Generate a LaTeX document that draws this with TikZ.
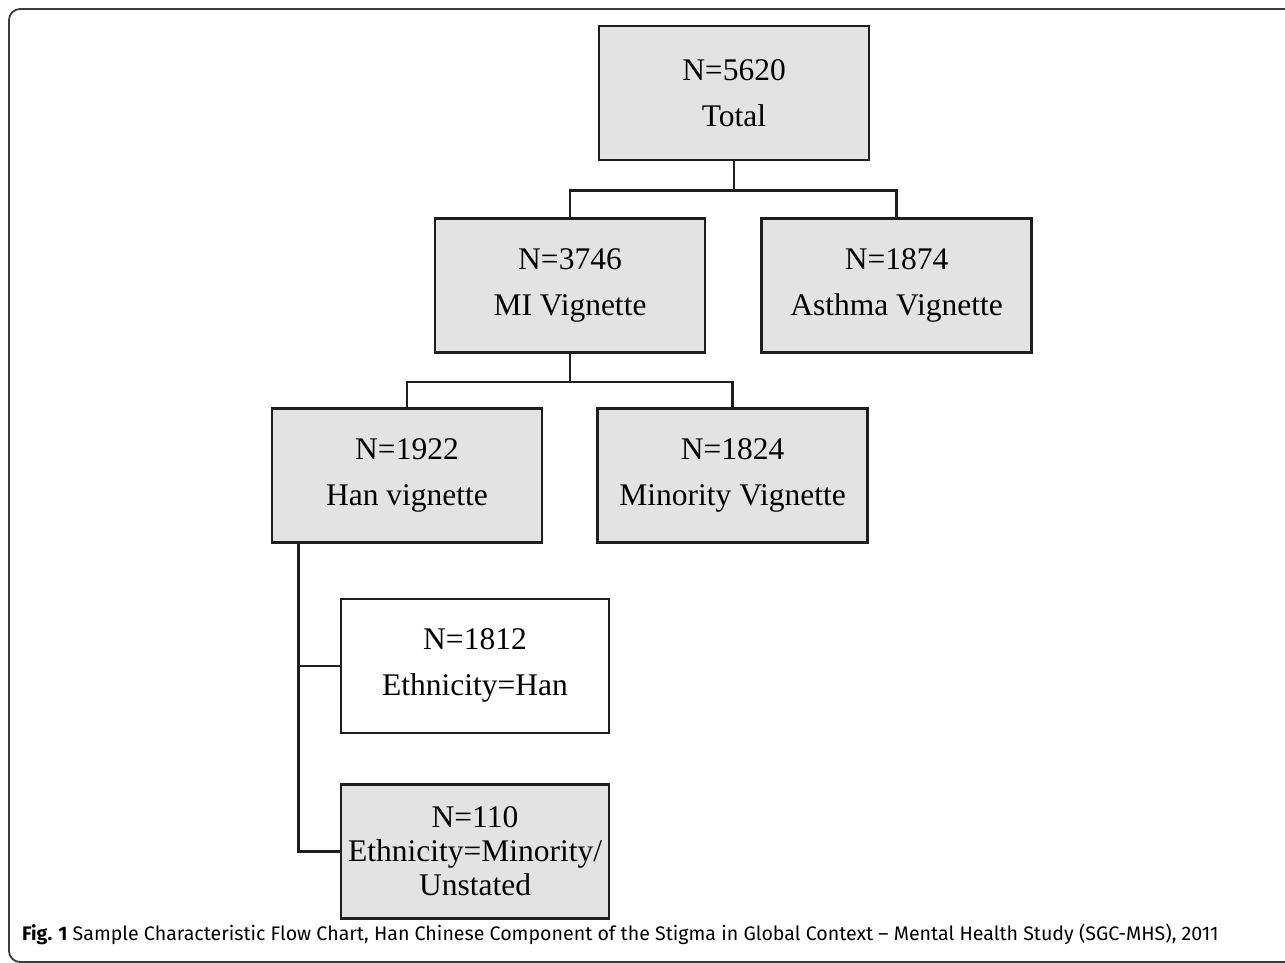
\documentclass[tikz,border=0pt]{standalone}
\usepackage{fontspec}
\setmainfont{Liberation Serif}
\newfontfamily\capfont{Fira Sans}
\usetikzlibrary{positioning,calc}
\definecolor{boxgray}{RGB}{227,227,227}
\definecolor{linedark}{RGB}{30,30,30}
\definecolor{framegray}{RGB}{60,60,60}

\begin{document}
\begin{tikzpicture}[
    node distance=54pt,
    stage/.style={rectangle, draw=linedark, fill=boxgray, line width=2.6pt,
                  minimum width=270pt, minimum height=134pt, align=center,
                  inner sep=0pt, font=\fontsize{31.5}{46}\selectfont},
    leaf/.style={stage, fill=white},
    link/.style={draw=linedark, line width=2.6pt}
]
\useasboundingbox (0,0) rectangle (1285pt,-963pt);

% Frame
\draw[framegray, line width=1.8pt, rounded corners=11pt]
    (1300pt,-9pt) -- (9pt,-9pt) -- (9pt,-962pt) -- (1300pt,-962pt);

% Top level
\node[stage] (total) at (734pt,-93pt) {N=5620\\Total};

% Second level
\node[stage, below=56pt of total, xshift=-164pt] (mi) {N=3746\\MI Vignette};
\node[stage, right=54pt of mi] (asthma) {N=1874\\Asthma Vignette};

% Third level
\node[stage, below=53pt of mi, xshift=-163pt] (han) {N=1922\\Han vignette};
\node[stage, right=53pt of han] (minority) {N=1824\\Minority Vignette};

% Ethnicity
\node[leaf, minimum width=268pt, below=54pt of han, xshift=68pt] (ethhan) {N=1812\\Ethnicity=Han};
\node[stage, minimum width=268pt, below=49pt of ethhan,
      font=\fontsize{31.5}{34}\selectfont] (ethmin) {N=110\\Ethnicity=Minority/\\Unstated};

% Links
\draw[link] (total.south) -- ++(0,-29pt) coordinate (jtop);
\draw[link] (jtop) -| (mi.north);
\draw[link] (jtop) -| (asthma.north);
\draw[link] (mi.south) -- ++(0,-28pt) coordinate (jmid);
\draw[link] (jmid) -| (han.north);
\draw[link] (jmid) -| (minority.north);
\draw[link] ([xshift=28pt]han.south west) |- (ethhan.west);
\draw[link] ([xshift=28pt]han.south west) |- (ethmin.west);

% Caption
\node[anchor=west, inner sep=0pt, font=\capfont\fontsize{19.6}{22}\selectfont] (caption) at (22pt,-934pt)
    {\textbf{Fig. 1} Sample Characteristic Flow Chart, Han Chinese Component of the Stigma in Global Context – Mental Health Study (SGC-MHS), 2011};
\end{tikzpicture}
\end{document}
